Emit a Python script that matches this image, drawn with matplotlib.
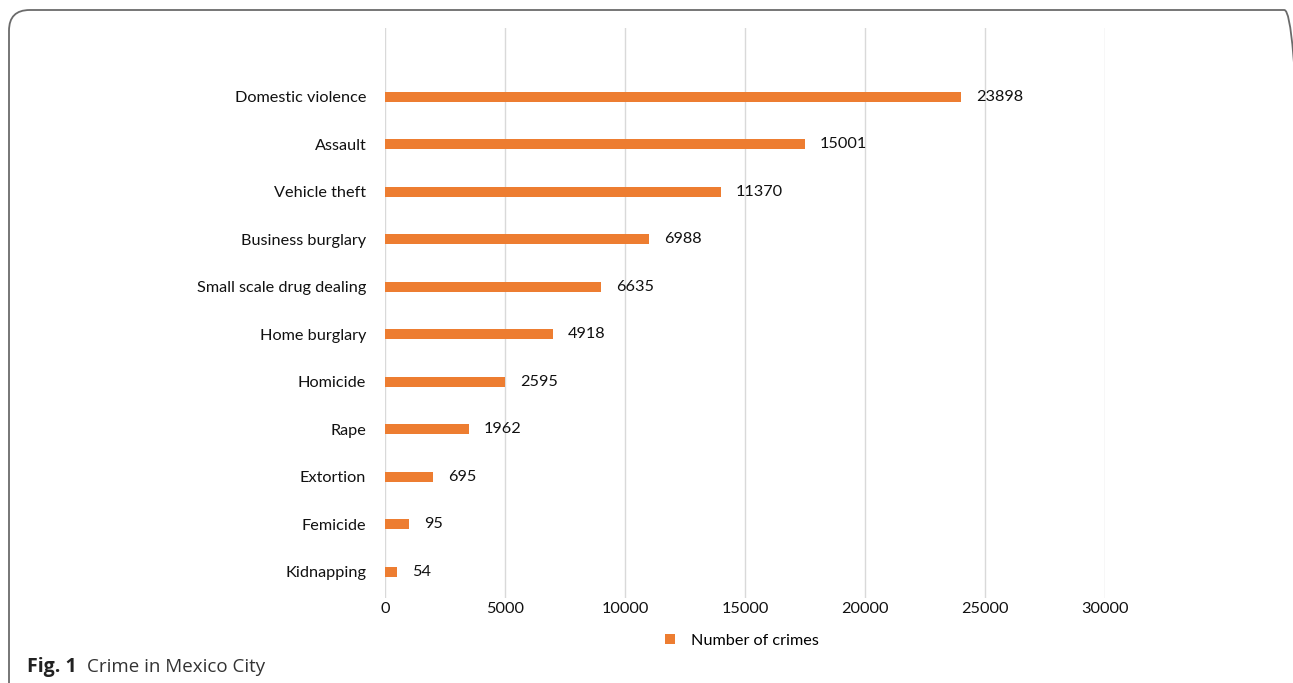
import matplotlib.pyplot as plt
from matplotlib.patches import FancyBboxPatch

# data (bar lengths as drawn, labels as printed)
crimes = ["Domestic violence", "Assault", "Vehicle theft", "Business burglary",
          "Small scale drug dealing", "Home burglary", "Homicide", "Rape",
          "Extortion", "Femicide", "Kidnapping"]
bar_lengths = [24000, 17500, 14000, 11000, 9000, 7000, 5000, 3500, 2000, 1000, 500]
value_labels = [23898, 15001, 11370, 6988, 6635, 4918, 2595, 1962, 695, 95, 54]
xticks = [0, 5000, 10000, 15000, 20000, 25000, 30000]

W, H = 1293, 683
fig = plt.figure(figsize=(W / 100, H / 100), dpi=100)
plt.rcParams['font.family'] = ['Lato', 'DejaVu Sans']

orange = "#ED7D31"
ax = fig.add_axes([385 / W, 1 - 598 / H, 720 / W, 570 / H])

y = list(range(len(crimes)))
ax.barh(y, bar_lengths, height=0.21, color=orange, zorder=3, label="Number of crimes")

for yi, length, val in zip(y, bar_lengths, value_labels):
    ax.annotate(str(val), (length, yi), xytext=(15, 0), textcoords="offset pixels",
                va="center", ha="left", fontsize=11.7, color="#111111")

ax.set_xlim(0, 30000)
ax.set_ylim(10.55, -1.45)
ax.set_xticks(xticks)
ax.set_xticklabels([str(t) for t in xticks], fontsize=11.7, color="#111111")
ax.set_yticks(y)
ax.set_yticklabels(crimes, fontsize=11.7, color="#111111")
ax.tick_params(axis="both", length=0)
ax.tick_params(axis="y", pad=13.5)
ax.tick_params(axis="x", pad=3)
ax.grid(axis="x", color="#d9d9d9", linewidth=1, zorder=0)
for s in ax.spines.values():
    s.set_visible(False)

leg = ax.legend(loc="center", bbox_to_anchor=(742 / W, 1 - 641 / H),
                bbox_transform=fig.transFigure, frameon=False, fontsize=11.7,
                handlelength=0.6, handleheight=0.6, handletextpad=1.0)

# rounded frame of the figure panel (right and bottom edges run off the page)
frame = FancyBboxPatch((9 / W, -0.1), (1305 - 9) / W, 1.1 - 10 / H,
                       boxstyle="round,pad=0,rounding_size=0.016",
                       transform=fig.transFigure, fill=False,
                       edgecolor="#6b6b6b", linewidth=1.3, mutation_aspect=W / H)
fig.patches.append(frame)

fig.text(27 / W, 1 - 667 / H, "Fig. 1", fontsize=14, fontweight="bold",
         family=["Open Sans", "DejaVu Sans"], va="center", ha="left", color="#222222")
fig.text(87 / W, 1 - 667 / H, "Crime in Mexico City", fontsize=13.5,
         family=["Open Sans", "DejaVu Sans"], va="center", ha="left", color="#333333")

fig.savefig("out.png", dpi=100)
